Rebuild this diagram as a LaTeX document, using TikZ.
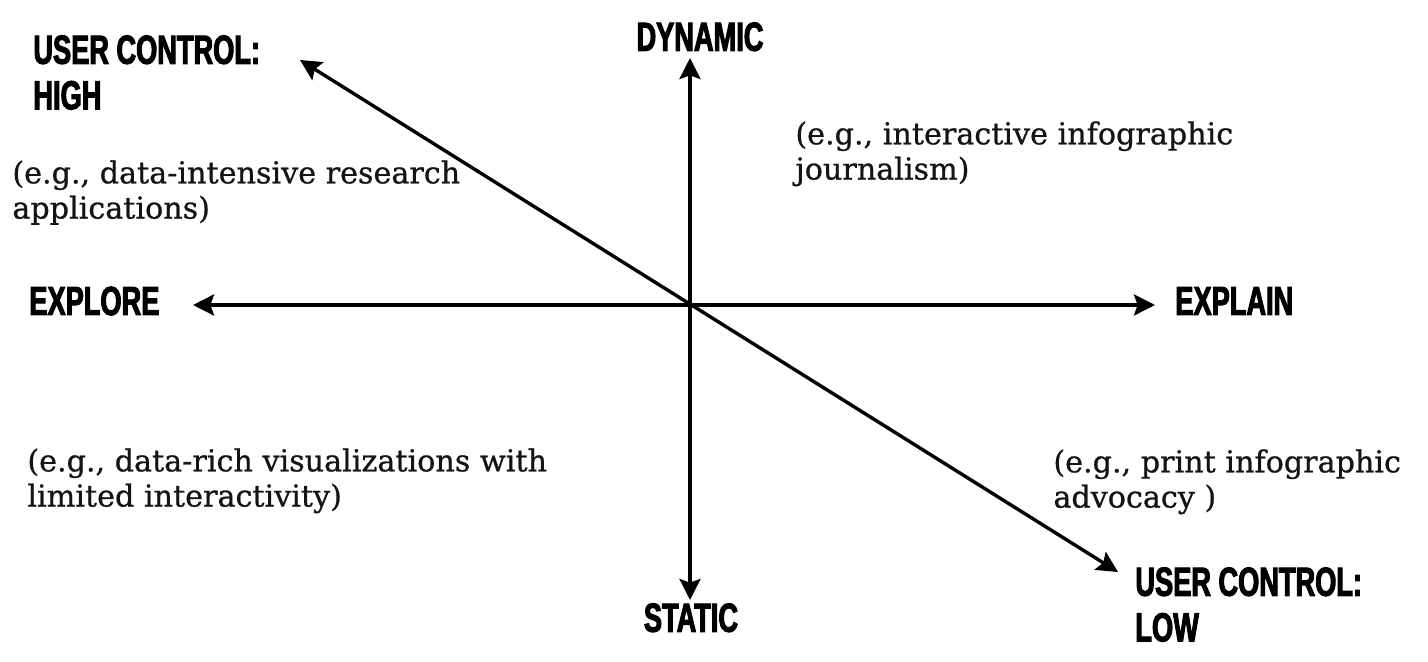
\documentclass[tikz,border=0pt]{standalone}
\usepackage{fontspec}
\usetikzlibrary{arrows.meta}
\newfontfamily\headfont[FakeStretch=0.67,FakeBold=2.5]{Liberation Sans Bold}
\newfontfamily\bodyfont[FakeBold=0.7]{DejaVu Serif}
\tikzset{
  tip/.style={Stealth[length=10.5pt,width=10.5pt,inset=1.8pt]},
  axis/.style={line width=1.7pt, draw=black, {Stealth[length=10.5pt,width=10.5pt,inset=1.8pt]}-{Stealth[length=10.5pt,width=10.5pt,inset=1.8pt]}},
  headlabel/.style={inner sep=0pt, text=black, align=left, font=\headfont\fontsize{20.3}{22.8}\selectfont},
  example/.style={inner sep=0pt, text=black!92, align=left, anchor=north west, font=\bodyfont\fontsize{15.1}{17.6}\selectfont}
}
\begin{document}
\begin{tikzpicture}[x=0.5pt,y=-0.5pt]
\useasboundingbox[fill=white] (0,0) rectangle (1428,662);
% axis end points
\coordinate (top) at (690,58);
\coordinate (bottom) at (690,600);
\coordinate (left) at (193,305);
\coordinate (right) at (1155,305);
\coordinate (ul) at (300,60);
\coordinate (lr) at (1118,572);
\draw[axis] (bottom) -- (top);
\draw[axis] (left) -- (right);
\draw[axis] (lr) -- (ul);
% labels
\node[headlabel, anchor=north west] (uchigh) at (33,35) {USER CONTROL:\\HIGH};
\node[headlabel, anchor=north] (dynamic) at (700,22) {DYNAMIC};
\node[headlabel, anchor=west] (explore) at (29,301) {EXPLORE};
\node[headlabel, anchor=west] (explain) at (1175,301) {EXPLAIN};
\node[headlabel, anchor=north] (static) at (691,603) {STATIC};
\node[headlabel, anchor=north west] (uclow) at (1135,567) {USER CONTROL:\\LOW};
% examples
\node[example] (extl) at (12,160) {(e.g., data-intensive research\\applications)};
\node[example] (extr) at (795,121) {(e.g., interactive infographic\\journalism)};
\node[example] (exbl) at (27,448) {(e.g., data-rich visualizations with\\limited interactivity)};
\node[example] (exbr) at (1053,449) {(e.g., print infographic\\advocacy )};
\end{tikzpicture}
\end{document}
